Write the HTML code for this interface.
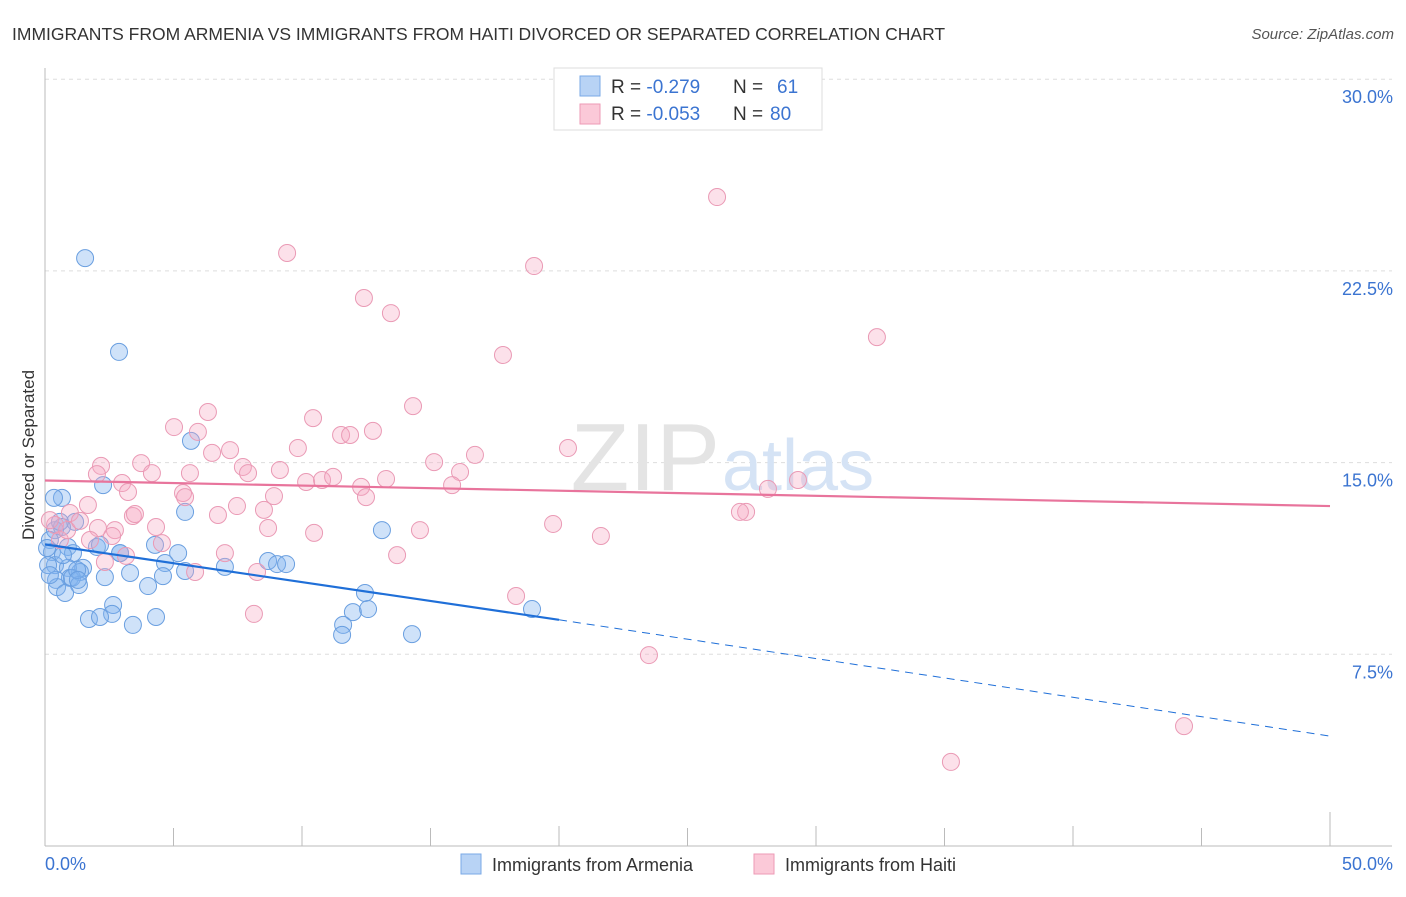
<!DOCTYPE html>
<html><head><meta charset="utf-8"><style>
body{margin:0;background:#fff;font-family:"Liberation Sans",sans-serif}
svg text{font-family:"Liberation Sans",sans-serif}
</style></head><body>
<svg width="1406" height="892">
<text x="12" y="40" font-size="17.5" fill="#333">IMMIGRANTS FROM ARMENIA VS IMMIGRANTS FROM HAITI DIVORCED OR SEPARATED CORRELATION CHART</text>
<text x="1394" y="39" font-size="15" fill="#555" font-style="italic" text-anchor="end">Source: ZipAtlas.com</text>
<g id="grid"></g>
<text x="720" y="490" font-size="96" fill="#e4e4e4" font-family="Liberation Serif" text-anchor="end">ZIP</text>
<text x="722" y="490" font-size="72" fill="#d5e3f5">atlas</text>
<line x1="45" y1="68" x2="45" y2="846" stroke="#bbb"/>
<line x1="45" y1="846" x2="1392" y2="846" stroke="#bbb"/>
<g id="ticks"></g>
<g id="pts"></g>
<g id="lines"></g>
<text transform="translate(34,455) rotate(-90)" font-size="17" fill="#333" text-anchor="middle">Divorced or Separated</text>
<text x="45" y="870" font-size="18" fill="#3b74d1">0.0%</text>
<text x="1393" y="870" font-size="18" fill="#3b74d1" text-anchor="end">50.0%</text>
<g>
<rect x="554" y="68" width="268" height="62" fill="#fff" stroke="#ddd"/>
<rect x="580" y="76" width="20" height="20" fill="#b8d3f5" stroke="#7aa8e6"/>
<rect x="580" y="104" width="20" height="20" fill="#fbc9d8" stroke="#ee9ab6"/>
<text x="611" y="93" font-size="19" fill="#333">R = <tspan fill="#3b74d1">-0.279</tspan><tspan x="733">N = </tspan><tspan fill="#3b74d1" x="777">61</tspan></text>
<text x="611" y="120" font-size="19" fill="#333">R = <tspan fill="#3b74d1">-0.053</tspan><tspan x="733">N = </tspan><tspan fill="#3b74d1" x="770">80</tspan></text>
</g>
<g>
<rect x="461" y="854" width="20" height="20" fill="#b8d3f5" stroke="#7aa8e6"/>
<text x="492" y="871" font-size="18" fill="#333">Immigrants from Armenia</text>
<rect x="754" y="854" width="20" height="20" fill="#fbc9d8" stroke="#ee9ab6"/>
<text x="785" y="871" font-size="18" fill="#333">Immigrants from Haiti</text>
</g>
</svg>
<script>
const yTicks=[7.5,15,22.5,30];
const yTickLabels=["7.5%","15.0%","22.5%","30.0%"];
const xTicks=[0,5,10,15,20,25,30,35,40,45,50];
const armeniaPx=[[85,258],[119,352],[191,441],[62,498],[54,498],[103,485],[185,512],[382,530],[55,530],[75,522],[62,527],[50,540],[68,547],[97,547],[100,545],[120,553],[155,545],[178,553],[52,552],[73,553],[55,565],[48,565],[165,563],[225,567],[268,561],[277,564],[286,564],[83,568],[80,572],[68,568],[70,578],[105,577],[130,573],[163,576],[185,571],[56,580],[72,578],[57,587],[79,585],[65,593],[148,586],[113,605],[112,614],[89,619],[100,617],[133,625],[156,617],[365,593],[353,612],[368,609],[343,625],[342,635],[412,634],[532,609],[77,570],[63,555],[47,548],[60,522],[120,553],[78,580],[50,575]];
const haitiPx=[[717,197],[287,253],[534,266],[364,298],[391,313],[877,337],[503,355],[208,412],[413,406],[313,418],[174,427],[198,432],[341,435],[350,435],[373,431],[568,448],[230,450],[212,453],[101,466],[141,463],[152,473],[97,474],[122,483],[190,473],[243,467],[248,473],[280,470],[298,448],[434,462],[475,455],[460,472],[452,485],[306,482],[322,480],[333,477],[361,487],[386,479],[274,496],[237,506],[218,515],[183,493],[185,497],[366,497],[128,492],[88,505],[133,516],[156,527],[115,530],[112,536],[268,528],[264,510],[314,533],[420,530],[553,524],[601,536],[746,512],[768,489],[798,480],[740,512],[55,525],[70,513],[60,540],[98,528],[126,556],[162,543],[225,553],[257,572],[397,555],[516,596],[254,614],[649,655],[1184,726],[951,762],[67,530],[50,520],[105,562],[80,521],[195,572],[135,514],[90,540]];
// data values (x %, y %)
const armeniaX=armeniaPx.map(p=>+((p[0]-45)/25.7).toFixed(2));
const armeniaY=armeniaPx.map(p=>+((846-p[1])/25.56).toFixed(2));
const haitiX=haitiPx.map(p=>+((p[0]-45)/25.7).toFixed(2));
const haitiY=haitiPx.map(p=>+((846-p[1])/25.56).toFixed(2));
const armeniaTrend=[11.8,8.85,4.3]; // at x=0, 20, 50
const haitiTrend=[14.3,13.3]; // at x=0, 50
const NS="http://www.w3.org/2000/svg";
const X=v=>45+v*25.7, Y=v=>846-v*25.56;
function mk(t,a,p){const e=document.createElementNS(NS,t);for(const k in a)e.setAttribute(k,a[k]);p.appendChild(e);return e;}
const grid=document.getElementById('grid');
yTicks.forEach((t,i)=>{
 const l=mk('line',{x1:45,x2:1392,y1:Y(t),y2:Y(t),stroke:'#ddd','stroke-dasharray':'4,4'},grid);
 
 
 const tx=mk('text',{x:1393,y:Y(t)+24,'font-size':18,fill:'#3b74d1','text-anchor':'end'},grid);
 tx.textContent=yTickLabels[i];
 
 
});
const tk=document.getElementById('ticks');
xTicks.forEach(t=>{
 const l=mk('line',{x1:X(t),x2:X(t),y1:t%10===0&&t>0?826:828,y2:846,stroke:'#bbb'},tk);
 if(t===0||t===50)l.setAttribute('y1',812);
 
 
});
const pts=document.getElementById('pts');
armeniaX.forEach((x,i)=>{
 const c=mk('circle',{cx:X(x),cy:Y(armeniaY[i]),r:8.5,fill:'rgba(130,178,238,0.38)',stroke:'#6a9fe0','stroke-width':1},pts);
 
 
});
haitiX.forEach((x,i)=>{
 const c=mk('circle',{cx:X(x),cy:Y(haitiY[i]),r:8.5,fill:'rgba(247,170,195,0.35)',stroke:'#ea9ab5','stroke-width':1},pts);
 
 
});
const ln=document.getElementById('lines');
let a=mk('line',{x1:X(0),y1:Y(armeniaTrend[0]),x2:X(20),y2:Y(armeniaTrend[1]),stroke:'#1f6fd8','stroke-width':2.2},ln);


a=mk('line',{x1:X(20),y1:Y(armeniaTrend[1]),x2:X(50),y2:Y(armeniaTrend[2]),stroke:'#1f6fd8','stroke-width':1,'stroke-dasharray':'8,6'},ln);


a=mk('line',{x1:X(0),y1:Y(haitiTrend[0]),x2:X(50),y2:Y(haitiTrend[1]),stroke:'#e8749c','stroke-width':2.2},ln);


</script>
</body></html>
